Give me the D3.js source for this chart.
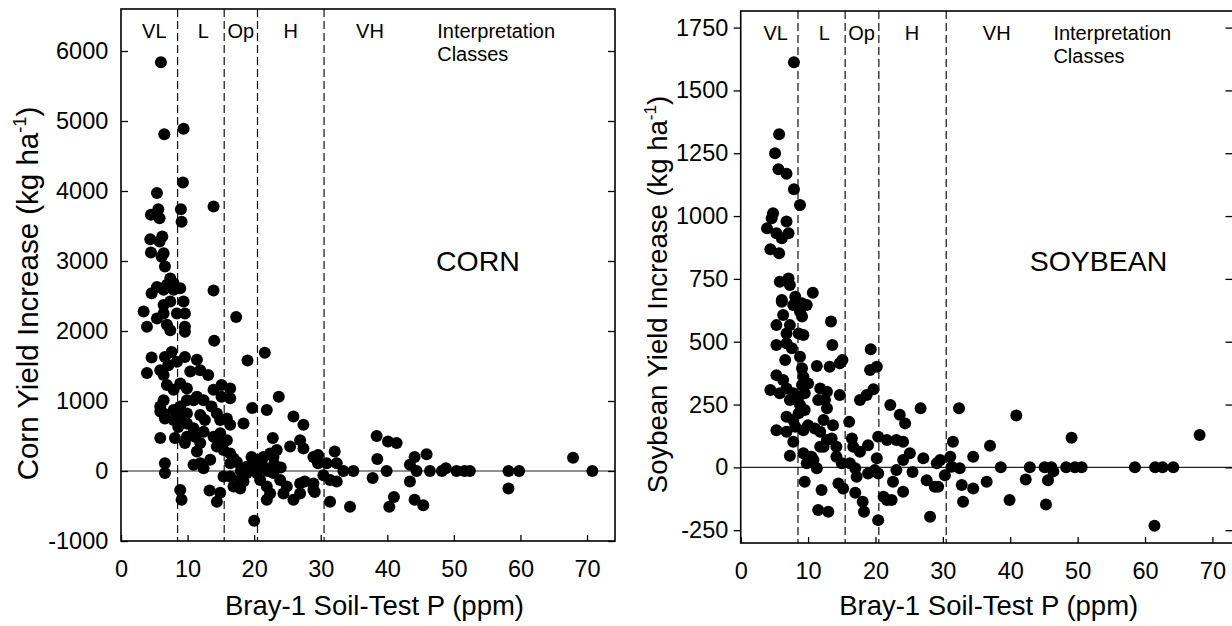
<!DOCTYPE html>
<html>
<head>
<meta charset="utf-8">
<script src="https://cdn.jsdelivr.net/npm/d3@7"></script>
<style>
  html, body { margin: 0; padding: 0; background: #fff; }
  svg { display: block; }
  text { font-family: "Liberation Sans", Arial, Helvetica, sans-serif; fill: #000; }
</style>
</head>
<body>
<svg id="chart" width="1232" height="626"></svg>
<script>
// ---------------- DATA ----------------
const classBreaks = [8.5, 15.5, 20.5, 30.5];
const classNames = ["VL", "L", "Op", "H", "VH"];
const xTicks = [0, 10, 20, 30, 40, 50, 60, 70];
const cornYTicks = [-1000, 0, 1000, 2000, 3000, 4000, 5000, 6000];
const soyYTicks = [-250, 0, 250, 500, 750, 1000, 1250, 1500, 1750];

const cornP = [6.0,6.5,9.4,9.3,5.4,4.5,5.6,5.8,9.0,9.1,13.9,4.4,6.2,5.8,4.5,6.4,6.1,6.6,7.4,7.9,
  4.6,5.4,6.4,6.9,7.9,8.9,13.9,3.4,6.4,7.4,9.4,9.6,17.3,3.9,5.4,6.4,6.9,7.4,8.4,9.6,
  9.6,14.0,4.6,3.9,6.6,7.6,7.1,8.4,5.9,6.4,9.6,11.4,11.9,10.4,13.1,19.0,21.6,6.9,7.9,8.9,
  9.9,11.4,10.9,12.4,13.9,15.1,16.4,16.4,15.1,23.7,6.4,5.9,6.4,5.9,6.6,7.9,8.9,9.9,9.1,9.9,
  7.9,8.6,8.1,5.9,9.9,10.9,11.9,12.6,12.4,11.1,9.9,9.6,11.9,13.6,14.4,14.9,15.9,16.4,14.9,13.9,
  15.9,14.4,15.1,18.4,19.7,21.9,22.8,11.4,11.9,10.9,12.4,13.4,6.6,6.6,15.4,16.4,16.9,17.4,16.4,15.4,
  16.9,18.4,18.9,19.6,20.1,20.9,21.4,20.4,20.9,21.9,22.4,21.9,21.4,22.4,22.9,23.4,8.9,9.1,13.3,14.9,
  14.4,20.0,22.9,23.9,24.9,24.4,25.9,25.4,25.9,27.4,26.9,27.4,28.9,29.4,28.9,16.4,17.9,18.9,19.9,17.9,
  26.9,26.9,27.6,28.9,29.1,29.6,29.6,30.9,31.4,32.1,32.4,32.4,31.4,34.4,33.4,34.9,30.4,38.4,38.5,37.8,
  39.9,40.1,41.4,41.0,40.3,43.4,44.1,43.4,44.4,45.9,44.1,45.4,46.4,48.2,48.8,50.4,51.6,52.4,58.2,58.2,
  59.8,67.9,70.8,23.0,24.0,19.0,20.5,22.0,18.0];
const cornYield = [5840,4810,4890,4120,3970,3660,3740,3610,3740,3560,3780,3310,3350,3280,3120,3110,3060,2920,2750,2680,
  2540,2630,2590,2660,2590,2610,2580,2280,2370,2420,2420,2250,2200,2060,2180,2250,2090,2010,2250,2060,
  1990,1860,1620,1400,1630,1700,1510,1560,1440,1370,1630,1590,1440,1420,1370,1580,1690,1230,1160,1250,
  1180,1060,1010,1010,1160,1230,1180,1040,1060,1060,1010,920,820,850,750,870,920,1010,780,820,
  730,630,470,470,680,610,800,730,560,490,490,400,400,920,820,730,750,660,540,490,
  440,350,440,680,900,870,470,280,110,90,40,160,110,-30,300,250,180,130,110,-80,
  -220,-150,60,200,160,110,60,-30,-130,-220,-320,-410,200,250,200,300,-270,-410,-280,-310,
  -440,-710,-30,-130,-220,-320,-410,350,780,660,440,320,200,160,-270,-80,-130,-30,110,-250,
  -180,-320,-150,-180,-300,230,110,110,-130,280,-150,110,-440,-510,0,0,-60,500,170,-100,
  0,420,400,-370,-510,90,200,-150,0,240,-410,-490,0,0,40,0,0,0,0,-250,
  0,190,0,100,50,0,30,0,0];

const soyP = [7.9,5.7,5.1,5.6,6.8,7.9,8.8,4.8,4.6,3.9,5.3,6.8,7.1,6.1,4.4,5.7,5.8,7.1,7.3,6.1,
  8.1,9.8,10.7,6.3,8.8,13.4,6.1,7.8,9.1,7.3,9.1,5.3,6.8,8.6,9.3,5.3,6.8,7.6,8.8,6.6,
  13.6,19.3,11.3,13.2,14.7,15.1,19.2,20.2,9.1,9.3,10.0,9.1,4.4,5.3,6.3,5.8,6.8,7.8,7.3,8.6,
  9.5,8.8,11.8,12.8,11.5,12.5,12.8,14.7,17.7,18.7,19.7,22.2,23.6,24.4,26.7,6.8,7.8,8.6,9.5,5.3,
  6.8,8.1,7.8,9.3,10.0,7.3,11.0,11.8,12.3,13.7,12.8,12.3,13.5,14.2,11.8,9.3,9.8,10.5,11.3,10.8,
  9.5,12.0,11.5,13.0,14.2,15.0,14.5,15.2,16.1,16.5,16.7,16.2,17.0,17.2,17.7,18.9,17.0,18.1,18.3,20.4,
  20.2,20.4,21.2,21.7,22.4,20.4,18.9,19.9,21.7,23.1,24.1,24.1,23.1,22.6,24.1,25.1,25.5,27.1,27.6,28.1,
  28.8,29.1,32.4,40.9,29.3,29.6,31.1,31.3,32.5,30.3,31.5,32.8,33.0,34.5,34.5,37.0,36.5,38.6,39.9,42.3,
  42.9,45.1,46.1,46.4,45.6,45.3,49.1,48.3,49.6,50.6,58.5,61.5,62.6,64.2,61.4,68.1];
const soyYield = [1612,1326,1250,1186,1168,1107,1044,1011,991,951,932,978,932,912,868,852,739,752,726,666,
  679,646,695,606,619,580,659,646,653,566,600,566,533,533,527,487,494,474,440,427,
  487,470,403,400,414,427,387,400,394,361,334,328,308,367,348,295,314,295,268,281,
  295,248,314,301,268,268,235,288,268,288,311,248,209,175,235,201,188,215,228,148,
  142,162,102,148,168,46,155,142,188,168,109,82,115,82,82,56,16,42,-4,29,
  -57,-90,-170,-177,42,16,-64,-84,181,115,82,16,-4,-37,62,88,-101,-137,-177,122,
  36,-24,-117,-130,-130,-210,-24,-11,109,109,102,29,-11,-57,-97,56,-18,36,-51,-197,
  -77,16,235,206,-77,29,42,2,-4,-31,102,-70,-137,42,-84,86,-57,0,-130,-48,
  0,0,0,-16,-51,-148,118,0,0,0,0,0,0,0,-232,129];

// ---------------- DRAW ----------------
const svg = d3.select("#chart");
const FONT_TICK = 23.5, FONT_CLASS = 20, FONT_CROP = 28.5, FONT_XTITLE = 27.5;
const plainNum = d => String(d);

function panel(cfg) {
  const x = d3.scaleLinear().domain(cfg.xDomain).range(cfg.xRange);
  const y = d3.scaleLinear().domain(cfg.yDomain).range(cfg.yRange);
  const g = svg.append("g");
  const [x0, x1] = cfg.xRange, [y0, y1] = cfg.yRange; // y0 bottom, y1 top

  // zero line
  g.append("line").attr("x1", x0).attr("x2", x1).attr("y1", y(0)).attr("y2", y(0))
    .attr("stroke", "#222").attr("stroke-width", 1.1);

  // class boundaries
  g.selectAll("line.cls").data(classBreaks).enter().append("line")
    .attr("x1", d => x(d)).attr("x2", d => x(d)).attr("y1", y1).attr("y2", y0)
    .attr("stroke", "#111").attr("stroke-width", 1.2).attr("stroke-dasharray", "8,4");

  // points
  g.selectAll("circle").data(cfg.px.map((p, i) => [p, cfg.py[i]])).enter().append("circle")
    .attr("cx", d => x(d[0])).attr("cy", d => y(d[1])).attr("r", 6).attr("fill", "#000");

  // bottom axis (inward ticks)
  const ax = g.append("g").attr("transform", `translate(0,${y0})`)
    .call(d3.axisBottom(x).tickValues(xTicks).tickFormat(plainNum)
      .tickSizeInner(-6).tickSizeOuter(0).tickPadding(19));
  ax.select(".domain").remove();
  ax.selectAll("text").attr("font-size", FONT_TICK).style("font-family", '"Liberation Sans", Arial, sans-serif');
  ax.selectAll("line").attr("stroke-width", 1.3);

  // left axis
  const ay = g.append("g").attr("transform", `translate(${x0},0)`)
    .call(d3.axisLeft(y).tickValues(cfg.yTicks).tickFormat(plainNum)
      .tickSizeInner(cfg.leftTickIn ? -7 : 7).tickSizeOuter(0)
      .tickPadding(cfg.leftTickIn ? 12.7 : 5.4));
  ay.select(".domain").remove();
  ay.selectAll("text").attr("font-size", FONT_TICK).style("font-family", '"Liberation Sans", Arial, sans-serif');
  ay.selectAll("line").attr("stroke-width", 1.3);

  // right axis ticks (inward, no labels)
  const ar = g.append("g").attr("transform", `translate(${cfg.rightTickX},0)`)
    .call(d3.axisRight(y).tickValues(cfg.yTicks).tickSizeInner(-7).tickSizeOuter(0).tickFormat(""));
  ar.select(".domain").remove();
  ar.selectAll("line").attr("stroke-width", 1.3);

  // frame
  g.append("rect").attr("x", x0).attr("y", y1).attr("width", x1 - x0).attr("height", y0 - y1)
    .attr("fill", "none").attr("stroke", "#000").attr("stroke-width", 1.6);

  // class labels
  g.selectAll("text.cls").data(classNames).enter().append("text")
    .attr("x", (d, i) => x(cfg.classX[i])).attr("y", y1 + 29)
    .attr("text-anchor", "middle").attr("font-size", FONT_CLASS).text(d => d);
  const it = g.append("text").attr("x", x(cfg.interpX)).attr("y", y1 + 29).attr("font-size", FONT_CLASS);
  it.append("tspan").attr("x", x(cfg.interpX)).text("Interpretation");
  it.append("tspan").attr("x", x(cfg.interpX)).attr("dy", 22.5).text("Classes");

  // crop label
  g.append("text").attr("x", x(cfg.cropX)).attr("y", 270.5).attr("text-anchor", "middle")
    .attr("font-size", FONT_CROP).text(cfg.crop);

  // x title
  g.append("text").attr("x", cfg.xTitleX).attr("y", 615).attr("text-anchor", "middle")
    .attr("font-size", FONT_XTITLE).text("Bray-1 Soil-Test P (ppm)");

  // y title
  const yt = g.append("text").attr("transform", `translate(${cfg.yTitleX},${cfg.yTitleY}) rotate(-90)`)
    .attr("text-anchor", "middle").attr("font-size", cfg.yTitleSize);
  yt.append("tspan").text(cfg.yTitle + " (kg ha");
  yt.append("tspan").attr("font-size", cfg.yTitleSize * 0.62).attr("dy", -cfg.yTitleSize * 0.4).text("-1");
  yt.append("tspan").attr("dy", cfg.yTitleSize * 0.4).text(")");
}

panel({
  xDomain: [0, 74.2], xRange: [121, 615], rightTickX: 615,
  yDomain: [-1000, 6600], yRange: [541, 9],
  yTicks: cornYTicks, leftTickIn: true,
  px: cornP, py: cornYield,
  classX: [5.0, 12.35, 18.0, 25.5, 37.4], interpX: 47.5, cropX: 53.6,
  crop: "CORN", xTitleX: 374.5, yTitleX: 37.5, yTitleY: 293.5, yTitleSize: 29.5,
  yTitle: "Corn Yield Increase"
});

panel({
  xDomain: [0, 73.13], xRange: [740.7, 1233.5], rightTickX: 1232.5,
  yDomain: [-301, 1816], yRange: [543, 11],
  yTicks: soyYTicks, leftTickIn: false,
  px: soyP, py: soyYield,
  classX: [5.2, 12.4, 17.95, 25.4, 38.0], interpX: 46.4, cropX: 53.1,
  crop: "SOYBEAN", xTitleX: 988.7, yTitleX: 666.5, yTitleY: 294.5, yTitleSize: 27.5,
  yTitle: "Soybean Yield Increase"
});
</script>
</body>
</html>
